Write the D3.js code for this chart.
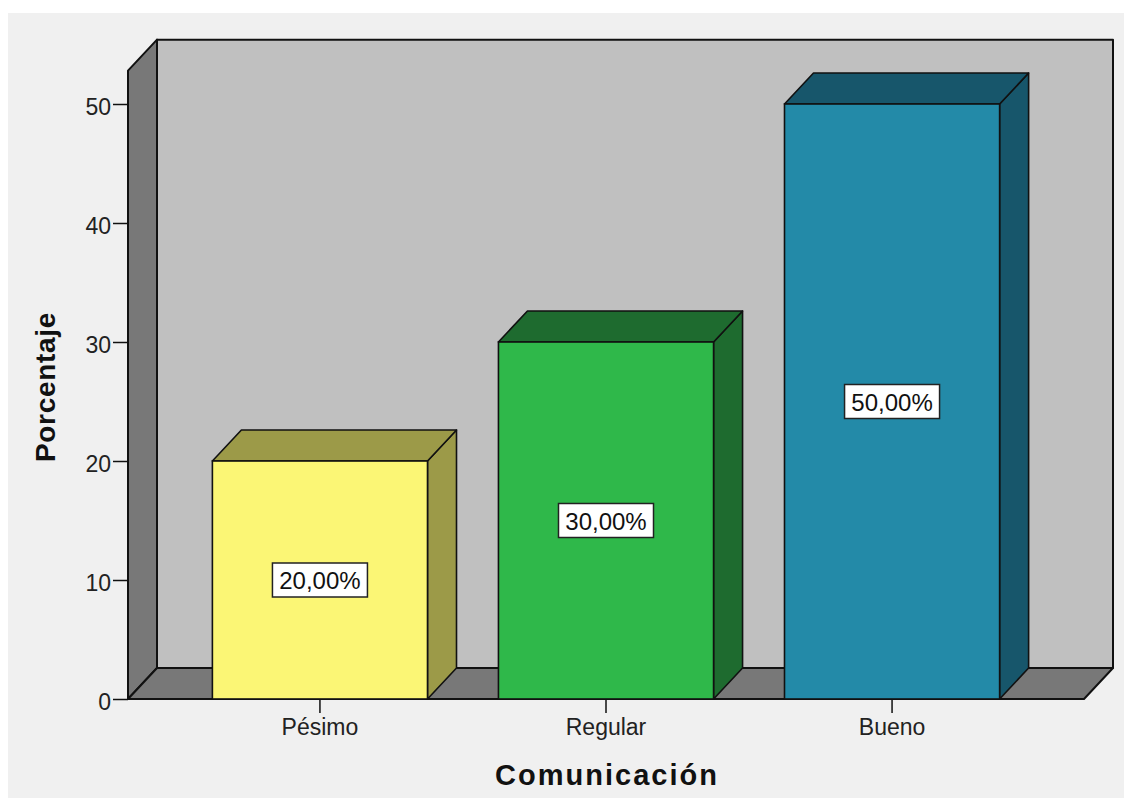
<!DOCTYPE html>
<html>
<head>
<meta charset="utf-8">
<script src="https://cdn.jsdelivr.net/npm/d3@7"></script>
<style>
  html, body { margin: 0; padding: 0; background: #ffffff; }
  svg { display: block; }
</style>
</head>
<body>
<svg id="chart" width="1129" height="798"></svg>
<script>
const categories = ["Pésimo", "Regular", "Bueno"];
const values = [20, 30, 50];
const valueLabels = ["20,00%", "30,00%", "50,00%"];
const yTicks = [0, 10, 20, 30, 40, 50];
const frontColors = ["#fbf675", "#2fb84a", "#238aa8"];
const sideColors = ["#9c9a48", "#1e6b2f", "#17566b"];
const xTitle = "Comunicación";
const yTitle = "Porcentaje";

const svg = d3.select("#chart");
const W = 1129, H = 798;
const FONT = "'Liberation Sans', Arial, sans-serif";

// background panel
svg.append("rect").attr("x", 8).attr("y", 13).attr("width", 1116).attr("height", H - 13).attr("fill", "#f0f0f0");

const x0 = 128, x1 = 1084;   // front plane x range
const dx = 29, dy = 31;      // depth offset
const y = d3.scaleLinear().domain([0, 50]).range([699, 104]);
const yTop = y(52.8);

const x = d3.scaleBand().domain(categories).range([x0, x1]).paddingInner(0.248).paddingOuter(0.295);

const line = d3.line();
const g = svg.append("g");

// back wall
g.append("path")
  .attr("d", line([[x0 + dx, y(0) - dy], [x0 + dx, yTop - dy], [x1 + dx, yTop - dy], [x1 + dx, y(0) - dy]]) + "Z")
  .attr("fill", "#c0c0c0").attr("stroke", "#111").attr("stroke-width", 2).attr("stroke-linejoin", "round");

// left side wall
g.append("path")
  .attr("d", line([[x0, y(0)], [x0, yTop], [x0 + dx, yTop - dy], [x0 + dx, y(0) - dy]]) + "Z")
  .attr("fill", "#787878").attr("stroke", "#111").attr("stroke-width", 2).attr("stroke-linejoin", "round");

// floor
g.append("path")
  .attr("d", line([[x0, y(0)], [x0 + dx, y(0) - dy], [x1 + dx, y(0) - dy], [x1, y(0)]]) + "Z")
  .attr("fill", "#787878").attr("stroke", "#111").attr("stroke-width", 2).attr("stroke-linejoin", "round");

// bars
categories.forEach((c, i) => {
  const bx = x(c), bw = x.bandwidth(), top = y(values[i]), base = y(0);
  const bg = g.append("g");
  bg.append("path")
    .attr("d", line([[bx + bw, base], [bx + bw, top], [bx + bw + dx, top - dy], [bx + bw + dx, base - dy]]) + "Z")
    .attr("fill", sideColors[i]).attr("stroke", "#111").attr("stroke-width", 1.6).attr("stroke-linejoin", "round");
  bg.append("path")
    .attr("d", line([[bx, top], [bx + dx, top - dy], [bx + bw + dx, top - dy], [bx + bw, top]]) + "Z")
    .attr("fill", sideColors[i]).attr("stroke", "#111").attr("stroke-width", 1.6).attr("stroke-linejoin", "round");
  bg.append("rect")
    .attr("x", bx).attr("y", top).attr("width", bw).attr("height", base - top)
    .attr("fill", frontColors[i]).attr("stroke", "#111").attr("stroke-width", 1.6);

  const cx = bx + bw / 2, cy = y(values[i] / 2);
  const lw = 95, lh = 34;
  bg.append("rect")
    .attr("x", cx - lw / 2).attr("y", cy - lh / 2).attr("width", lw).attr("height", lh)
    .attr("fill", "#ffffff").attr("stroke", "#222").attr("stroke-width", 1.5);
  bg.append("text")
    .attr("x", cx).attr("y", cy + 9)
    .attr("text-anchor", "middle")
    .attr("font-family", FONT)
    .attr("font-size", 24).attr("fill", "#111")
    .text(valueLabels[i]);
});

// y axis
const yAxis = d3.axisLeft(y).tickValues(yTicks).tickSize(15).tickPadding(2).tickFormat(d3.format("d"));
const ya = svg.append("g").attr("transform", `translate(${x0},0)`).call(yAxis);
ya.select(".domain").remove();
ya.selectAll(".tick line").attr("stroke", "#111").attr("stroke-width", 1.5);
ya.selectAll(".tick text")
  .attr("font-family", FONT)
  .attr("font-size", 23).attr("fill", "#222").attr("dy", "0.47em");

// x axis
const xAxis = d3.axisBottom(x).tickSize(14).tickPadding(6);
const xa = svg.append("g").attr("transform", `translate(0,${y(0)})`).call(xAxis);
xa.select(".domain").remove();
xa.selectAll(".tick line").attr("stroke", "#111").attr("stroke-width", 1.5);
xa.selectAll(".tick text")
  .attr("font-family", FONT)
  .attr("font-size", 23).attr("fill", "#222");

// titles
svg.append("text")
  .attr("x", (x0 + x1) / 2 + 1).attr("y", 785)
  .attr("text-anchor", "middle")
  .attr("font-family", FONT)
  .attr("font-weight", "bold").attr("font-size", 29).attr("letter-spacing", 2)
  .attr("fill", "#111")
  .text(xTitle);

svg.append("text")
  .attr("transform", `translate(55,387) rotate(-90)`)
  .attr("text-anchor", "middle")
  .attr("font-family", FONT)
  .attr("font-weight", "bold").attr("font-size", 28).attr("letter-spacing", 0.7)
  .attr("fill", "#111")
  .text(yTitle);
</script>
</body>
</html>
